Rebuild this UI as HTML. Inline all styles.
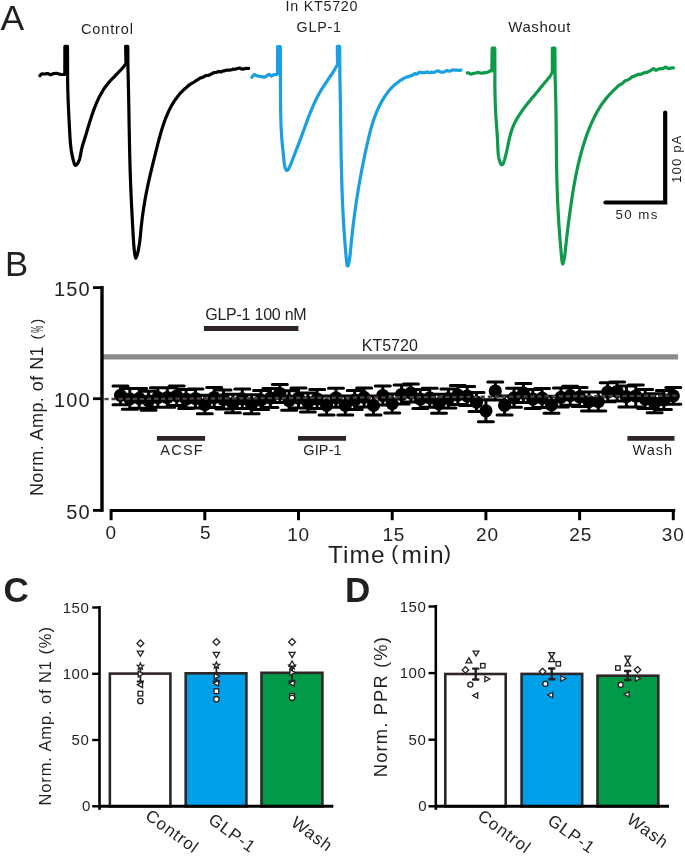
<!DOCTYPE html>
<html><head><meta charset="utf-8"><style>
html,body{margin:0;padding:0;background:#fff;}
svg{display:block;font-family:"Liberation Sans", sans-serif;will-change:transform;}
</style></head><body>
<svg width="685" height="856" viewBox="0 0 685 856">
<rect width="685" height="856" fill="#fff"/>
<text x="0.4" y="30.4" font-size="35.5" fill="#231f20">A</text>
<text x="81.0" y="33.5" font-size="14.5" textLength="52" lengthAdjust="spacing" fill="#231f20">Control</text>
<text x="285.5" y="11.4" font-size="14.3" textLength="72" lengthAdjust="spacing" fill="#231f20">In KT5720</text>
<text x="296.5" y="31.5" font-size="14.3" textLength="44.5" lengthAdjust="spacing" fill="#231f20">GLP-1</text>
<text x="508.3" y="31.9" font-size="15" textLength="62" lengthAdjust="spacing" fill="#231f20">Washout</text>
<path d="M39.91,75.74L40.94,74.43L42.02,73.81L43.14,73.93L44.32,74.01L45.54,73.89L46.79,73.59L48.07,73.62L49.35,74.17L50.64,74.76L51.93,74.29L53.21,73.61L54.49,73.51L55.77,73.40L57.06,73.42L58.34,73.81L59.62,74.18L60.91,74.37L62.20,74.52L63.50,74.42L64.80,74.32L64.90,46.30L67.50,46.30L67.60,72.01L67.59,73.21L67.59,74.41L67.59,75.61L67.60,76.81L67.60,78.02L67.61,79.22L67.62,80.43L67.64,81.64L67.66,82.85L67.68,84.06L67.70,85.27L67.72,86.48L67.75,87.69L67.78,88.91L67.81,90.12L67.84,91.34L67.88,92.55L67.92,93.77L67.95,94.98L68.00,96.20L68.04,97.41L68.08,98.63L68.13,99.85L68.18,101.07L68.22,102.28L68.27,103.50L68.33,104.72L68.38,105.93L68.43,107.15L68.49,108.36L68.54,109.58L68.60,110.79L68.66,112.01L68.72,113.22L68.78,114.43L68.84,115.64L68.90,116.85L68.96,118.06L69.02,119.27L69.08,120.48L69.15,121.69L69.21,122.89L69.27,124.09L69.34,125.30L69.40,126.50L69.46,127.70L69.53,128.89L69.59,130.09L69.65,131.28L69.72,132.48L69.78,133.67L69.85,134.86L69.92,136.05L69.99,137.24L70.07,138.43L70.15,139.62L70.24,140.81L70.33,142.01L70.44,143.20L70.56,144.40L70.68,145.60L70.82,146.81L70.97,148.01L71.13,149.23L71.30,150.44L71.50,151.66L71.70,152.89L71.93,154.12L72.17,155.36L72.43,156.61L72.71,157.86L73.01,159.12L73.33,160.38L73.68,161.65L74.05,162.93L74.46,164.08L74.95,165.02L75.54,165.43L76.25,164.99L77.02,164.25L77.75,163.25L78.38,162.16L78.91,161.01L79.36,159.84L79.72,158.64L80.03,157.42L80.30,156.18L80.53,154.94L80.74,153.69L80.95,152.45L81.17,151.22L81.42,150.02L81.69,148.83L81.98,147.66L82.28,146.51L82.61,145.37L82.94,144.23L83.29,143.10L83.64,141.97L84.00,140.85L84.35,139.73L84.71,138.60L85.06,137.47L85.42,136.33L85.77,135.18L86.11,134.03L86.46,132.88L86.81,131.73L87.16,130.56L87.50,129.40L87.85,128.23L88.20,127.07L88.55,125.90L88.90,124.73L89.26,123.56L89.62,122.39L89.98,121.22L90.35,120.04L90.72,118.87L91.09,117.71L91.47,116.55L91.86,115.38L92.25,114.21L92.65,113.04L93.05,111.89L93.46,110.74L93.88,109.60L94.31,108.45L94.75,107.31L95.20,106.17L95.65,105.03L96.12,103.89L96.59,102.78L97.08,101.67L97.58,100.56L98.09,99.46L98.61,98.36L99.14,97.29L99.69,96.23L100.25,95.16L100.82,94.10L101.41,93.08L102.01,92.07L102.63,91.02L103.26,89.95L103.91,88.95L104.58,87.97L105.26,87.01L105.96,86.09L106.68,85.17L107.42,84.22L108.17,83.29L108.94,82.38L109.73,81.40L110.54,80.48L111.35,79.63L112.18,78.79L113.01,78.06L113.85,77.28L114.70,76.37L115.55,75.34L116.40,74.37L117.25,73.57L118.09,72.73L118.94,71.82L119.77,70.97L120.59,70.18L121.41,69.32L122.21,68.39L123.00,67.47L123.77,66.50L124.52,65.53L125.26,64.60L125.97,63.77L125.60,46.30L127.80,46.30L127.94,68.01L127.97,69.21L128.01,70.42L128.04,71.62L128.08,72.82L128.11,74.02L128.14,75.23L128.17,76.43L128.20,77.64L128.23,78.84L128.26,80.04L128.29,81.25L128.32,82.45L128.35,83.66L128.38,84.86L128.41,86.06L128.43,87.27L128.46,88.47L128.48,89.68L128.51,90.88L128.54,92.09L128.56,93.29L128.58,94.50L128.61,95.70L128.63,96.91L128.66,98.12L128.68,99.32L128.70,100.53L128.72,101.73L128.75,102.94L128.77,104.14L128.79,105.35L128.81,106.56L128.83,107.76L128.85,108.97L128.88,110.18L128.90,111.38L128.92,112.59L128.94,113.79L128.96,115.00L128.98,116.21L129.00,117.41L129.02,118.62L129.04,119.83L129.06,121.03L129.08,122.24L129.10,123.45L129.13,124.65L129.15,125.86L129.17,127.07L129.19,128.27L129.21,129.48L129.23,130.68L129.25,131.89L129.28,133.10L129.30,134.30L129.32,135.51L129.34,136.72L129.37,137.92L129.39,139.13L129.41,140.34L129.44,141.54L129.46,142.75L129.48,143.96L129.51,145.16L129.53,146.37L129.56,147.57L129.59,148.78L129.61,149.99L129.64,151.19L129.67,152.40L129.69,153.60L129.72,154.81L129.75,156.01L129.78,157.22L129.81,158.43L129.84,159.63L129.87,160.84L129.91,162.04L129.94,163.25L129.97,164.45L130.00,165.66L130.04,166.86L130.07,168.07L130.11,169.27L130.15,170.47L130.18,171.68L130.22,172.88L130.26,174.09L130.30,175.29L130.34,176.49L130.38,177.70L130.43,178.90L130.47,180.11L130.51,181.31L130.56,182.51L130.60,183.71L130.65,184.92L130.70,186.12L130.75,187.32L130.80,188.52L130.85,189.73L130.90,190.93L130.95,192.13L131.00,193.33L131.06,194.53L131.11,195.74L131.17,196.94L131.22,198.14L131.28,199.34L131.34,200.54L131.39,201.74L131.45,202.94L131.51,204.14L131.57,205.35L131.63,206.55L131.69,207.75L131.75,208.95L131.82,210.15L131.88,211.35L131.94,212.55L132.00,213.75L132.07,214.96L132.13,216.16L132.19,217.36L132.26,218.56L132.32,219.76L132.39,220.96L132.45,222.16L132.52,223.37L132.58,224.57L132.65,225.77L132.72,226.97L132.78,228.17L132.85,229.38L132.91,230.58L132.98,231.78L133.04,232.98L133.11,234.19L133.18,235.39L133.24,236.60L133.31,237.81L133.39,239.03L133.46,240.25L133.55,241.49L133.64,242.74L133.73,244.00L133.83,245.27L133.94,246.56L134.06,247.87L134.19,249.21L134.34,250.56L134.49,251.93L134.66,253.26L134.84,254.51L135.04,255.61L135.26,256.51L135.51,257.19L135.78,258.15L136.07,257.44L136.38,256.94L136.71,256.23L137.05,255.26L137.38,254.11L137.71,252.85L138.02,251.52L138.31,250.19L138.58,248.88L138.82,247.58L139.04,246.31L139.25,245.05L139.44,243.80L139.61,242.57L139.77,241.34L139.91,240.13L140.05,238.92L140.18,237.73L140.30,236.53L140.41,235.35L140.53,234.16L140.64,232.98L140.75,231.80L140.86,230.61L140.97,229.42L141.09,228.23L141.22,227.04L141.34,225.84L141.47,224.65L141.61,223.45L141.75,222.24L141.89,221.04L142.04,219.83L142.19,218.63L142.34,217.42L142.50,216.21L142.67,215.00L142.83,213.79L143.00,212.58L143.18,211.37L143.35,210.16L143.53,208.95L143.72,207.75L143.91,206.54L144.10,205.33L144.29,204.13L144.49,202.93L144.70,201.73L144.90,200.53L145.11,199.34L145.33,198.15L145.54,196.96L145.76,195.77L145.99,194.59L146.21,193.41L146.44,192.23L146.68,191.06L146.91,189.89L147.15,188.72L147.39,187.55L147.64,186.38L147.88,185.22L148.13,184.05L148.39,182.89L148.64,181.73L148.90,180.58L149.16,179.42L149.42,178.26L149.69,177.10L149.95,175.95L150.22,174.79L150.49,173.64L150.77,172.48L151.04,171.33L151.32,170.17L151.59,169.02L151.87,167.86L152.15,166.70L152.44,165.55L152.72,164.39L153.00,163.23L153.29,162.07L153.58,160.91L153.87,159.75L154.16,158.58L154.45,157.42L154.74,156.25L155.03,155.08L155.32,153.91L155.62,152.73L155.91,151.56L156.21,150.38L156.50,149.19L156.80,148.01L157.10,146.83L157.40,145.64L157.70,144.45L158.00,143.26L158.31,142.07L158.62,140.88L158.93,139.69L159.25,138.51L159.57,137.32L159.90,136.13L160.23,134.94L160.56,133.76L160.90,132.57L161.25,131.40L161.60,130.22L161.96,129.04L162.32,127.87L162.70,126.71L163.08,125.55L163.46,124.39L163.86,123.23L164.26,122.07L164.68,120.92L165.10,119.79L165.53,118.66L165.97,117.53L166.42,116.41L166.88,115.29L167.36,114.18L167.84,113.09L168.33,111.99L168.84,110.93L169.36,109.86L169.89,108.75L170.43,107.69L170.99,106.67L171.56,105.63L172.14,104.57L172.74,103.56L173.35,102.57L173.97,101.59L174.61,100.64L175.27,99.70L175.94,98.79L176.63,97.85L177.33,96.88L178.06,95.98L178.79,95.09L179.55,94.10L180.32,93.13L181.11,92.32L181.92,91.56L182.75,90.77L183.60,89.90L184.46,89.05L185.35,88.35L186.25,87.65L187.18,86.76L188.12,85.88L189.08,85.14L190.06,84.40L191.06,83.73L192.07,83.10L193.10,82.65L194.14,82.14L195.19,81.24L196.26,80.44L197.34,79.94L198.43,79.32L199.52,78.45L200.63,77.87L201.74,77.65L202.86,77.30L203.99,76.66L205.12,75.91L206.26,75.46L207.40,75.51L208.55,75.42L209.69,74.79L210.84,74.21L211.98,73.67L213.13,73.00L214.28,72.63L215.42,72.52L216.57,72.35L217.72,71.82L218.87,71.47L220.02,71.93L221.17,71.96L222.33,71.23L223.48,70.86L224.64,70.82L225.81,70.36L226.97,70.00L228.14,70.17L229.31,70.13L230.48,70.02L231.66,69.66L232.84,69.16L234.03,69.24L235.22,69.24L236.41,68.74L237.61,68.47L238.81,68.19L240.02,68.20L241.24,68.94L242.46,69.07L243.68,68.86L244.92,68.74L246.15,68.27L247.40,68.52L248.65,68.36" fill="none" stroke="#000" stroke-width="3.2" stroke-linejoin="round" stroke-linecap="round"/>
<path d="M251.89,77.26L253.03,75.76L254.20,74.44L255.39,74.93L256.61,75.81L257.85,75.96L259.10,76.25L260.36,76.62L261.62,76.67L262.87,76.95L264.09,77.16L265.27,76.81L266.39,76.09L267.43,75.24L268.42,74.49L269.40,74.47L270.41,75.30L271.48,76.19L272.63,75.45L273.84,74.61L275.09,74.54L276.33,74.52L277.50,74.02L277.60,46.60L280.30,46.60L280.39,75.02L280.41,76.21L280.42,77.40L280.43,78.60L280.44,79.80L280.45,81.00L280.46,82.20L280.47,83.41L280.48,84.61L280.48,85.82L280.49,87.03L280.49,88.24L280.50,89.45L280.50,90.67L280.51,91.88L280.51,93.10L280.52,94.32L280.52,95.53L280.53,96.75L280.54,97.97L280.54,99.19L280.55,100.41L280.56,101.63L280.57,102.85L280.58,104.07L280.59,105.29L280.60,106.51L280.62,107.73L280.63,108.95L280.65,110.17L280.67,111.39L280.69,112.61L280.72,113.83L280.74,115.05L280.77,116.27L280.80,117.48L280.83,118.70L280.87,119.91L280.90,121.13L280.94,122.34L280.99,123.55L281.03,124.76L281.08,125.97L281.14,127.17L281.19,128.38L281.25,129.58L281.31,130.78L281.38,131.98L281.45,133.17L281.52,134.37L281.60,135.56L281.69,136.75L281.77,137.93L281.86,139.12L281.96,140.30L282.06,141.48L282.16,142.66L282.27,143.83L282.38,145.01L282.50,146.19L282.61,147.38L282.73,148.56L282.86,149.76L282.98,150.96L283.11,152.17L283.24,153.38L283.36,154.61L283.49,155.85L283.62,157.10L283.75,158.37L283.88,159.65L284.02,160.94L284.17,162.23L284.34,163.53L284.54,164.82L284.78,166.09L285.07,167.35L285.40,168.55L285.78,169.56L286.22,170.19L286.70,169.73L287.23,170.29L287.80,170.03L288.37,169.17L288.93,168.13L289.47,167.04L290.00,165.93L290.50,164.78L290.99,163.61L291.47,162.42L291.94,161.21L292.41,160.01L292.87,158.80L293.32,157.60L293.78,156.41L294.23,155.23L294.68,154.08L295.13,152.93L295.57,151.77L296.02,150.63L296.46,149.49L296.90,148.38L297.33,147.27L297.77,146.15L298.20,145.02L298.63,143.91L299.06,142.81L299.48,141.70L299.91,140.59L300.32,139.47L300.74,138.35L301.16,137.23L301.57,136.11L301.98,134.98L302.39,133.84L302.80,132.70L303.21,131.57L303.62,130.45L304.03,129.32L304.44,128.18L304.85,127.04L305.26,125.89L305.68,124.75L306.09,123.62L306.51,122.48L306.93,121.33L307.35,120.19L307.77,119.06L308.20,117.93L308.64,116.79L309.07,115.65L309.51,114.52L309.96,113.38L310.41,112.26L310.86,111.15L311.33,110.02L311.79,108.89L312.27,107.77L312.75,106.66L313.23,105.54L313.73,104.43L314.23,103.33L314.74,102.22L315.26,101.12L315.79,100.02L316.32,98.93L316.87,97.85L317.43,96.78L317.99,95.73L318.57,94.67L319.15,93.58L319.75,92.50L320.36,91.45L320.97,90.43L321.61,89.41L322.25,88.38L322.90,87.35L323.56,86.31L324.23,85.29L324.90,84.29L325.58,83.26L326.26,82.29L326.94,81.32L327.63,80.27L328.31,79.23L328.99,78.22L329.67,77.21L330.34,76.23L331.01,75.25L331.67,74.29L332.32,73.34L332.96,72.38L333.59,71.36L334.21,70.34L334.81,69.31L335.40,68.28L335.97,67.24L336.53,66.22L337.06,65.24L337.58,64.21L337.30,46.40L339.70,46.40L339.88,76.52L339.91,77.72L339.94,78.92L339.97,80.12L339.99,81.32L340.02,82.52L340.05,83.73L340.07,84.93L340.10,86.13L340.12,87.33L340.14,88.54L340.17,89.74L340.19,90.94L340.21,92.15L340.23,93.35L340.25,94.56L340.27,95.76L340.29,96.96L340.31,98.17L340.33,99.37L340.35,100.58L340.37,101.78L340.39,102.99L340.41,104.19L340.43,105.40L340.45,106.61L340.46,107.81L340.48,109.02L340.50,110.22L340.52,111.43L340.53,112.64L340.55,113.84L340.57,115.05L340.58,116.26L340.60,117.46L340.62,118.67L340.63,119.88L340.65,121.08L340.66,122.29L340.68,123.50L340.70,124.70L340.71,125.91L340.73,127.12L340.75,128.33L340.76,129.53L340.78,130.74L340.79,131.95L340.81,133.15L340.83,134.36L340.84,135.57L340.86,136.78L340.88,137.98L340.90,139.19L340.91,140.40L340.93,141.61L340.95,142.81L340.97,144.02L340.99,145.23L341.01,146.44L341.03,147.64L341.05,148.85L341.07,150.06L341.09,151.26L341.11,152.47L341.13,153.68L341.15,154.88L341.17,156.09L341.20,157.30L341.22,158.51L341.24,159.71L341.27,160.92L341.29,162.12L341.32,163.33L341.34,164.54L341.37,165.74L341.39,166.95L341.42,168.16L341.45,169.36L341.48,170.57L341.51,171.77L341.54,172.98L341.57,174.18L341.60,175.39L341.63,176.59L341.67,177.80L341.70,179.00L341.73,180.21L341.77,181.41L341.81,182.61L341.84,183.82L341.88,185.02L341.92,186.23L341.96,187.43L342.00,188.63L342.04,189.83L342.08,191.04L342.13,192.24L342.17,193.44L342.22,194.64L342.26,195.85L342.31,197.05L342.36,198.25L342.41,199.45L342.46,200.65L342.51,201.85L342.56,203.05L342.61,204.25L342.67,205.45L342.72,206.65L342.78,207.85L342.84,209.06L342.90,210.26L342.96,211.46L343.02,212.66L343.08,213.86L343.14,215.06L343.21,216.26L343.27,217.46L343.34,218.66L343.41,219.86L343.48,221.06L343.55,222.26L343.62,223.47L343.69,224.67L343.77,225.87L343.84,227.07L343.92,228.27L344.00,229.48L344.08,230.68L344.16,231.88L344.24,233.09L344.32,234.29L344.41,235.50L344.50,236.70L344.58,237.91L344.67,239.11L344.76,240.32L344.85,241.52L344.95,242.73L345.04,243.94L345.14,245.15L345.23,246.36L345.33,247.56L345.43,248.78L345.53,249.99L345.64,251.21L345.74,252.44L345.85,253.69L345.97,254.95L346.08,256.23L346.20,257.53L346.32,258.85L346.45,260.20L346.58,261.57L346.73,262.88L346.88,264.08L347.05,265.08L347.24,265.81L347.46,265.87L347.70,265.61L347.97,265.77L348.25,265.07L348.54,264.08L348.82,262.89L349.09,261.59L349.34,260.24L349.56,258.90L349.76,257.59L349.92,256.30L350.07,255.03L350.21,253.77L350.33,252.53L350.44,251.30L350.55,250.07L350.67,248.85L350.78,247.63L350.90,246.41L351.01,245.19L351.13,243.98L351.25,242.76L351.38,241.55L351.50,240.34L351.62,239.13L351.75,237.93L351.88,236.72L352.01,235.52L352.14,234.32L352.27,233.12L352.40,231.92L352.54,230.72L352.67,229.52L352.81,228.33L352.95,227.13L353.09,225.94L353.24,224.75L353.38,223.56L353.53,222.36L353.68,221.17L353.83,219.98L353.98,218.80L354.13,217.61L354.29,216.42L354.44,215.23L354.60,214.04L354.76,212.86L354.93,211.67L355.09,210.48L355.25,209.30L355.42,208.11L355.59,206.92L355.76,205.74L355.94,204.55L356.11,203.36L356.29,202.17L356.47,200.99L356.65,199.80L356.83,198.61L357.01,197.42L357.20,196.24L357.39,195.05L357.58,193.86L357.77,192.68L357.96,191.49L358.15,190.30L358.35,189.11L358.55,187.93L358.75,186.74L358.95,185.55L359.16,184.37L359.36,183.18L359.57,181.99L359.78,180.81L359.99,179.62L360.20,178.43L360.42,177.25L360.64,176.06L360.85,174.87L361.07,173.69L361.30,172.50L361.52,171.32L361.75,170.13L361.97,168.95L362.20,167.76L362.43,166.58L362.67,165.39L362.90,164.21L363.14,163.02L363.38,161.84L363.62,160.66L363.86,159.47L364.10,158.29L364.35,157.11L364.60,155.92L364.85,154.74L365.10,153.56L365.35,152.38L365.60,151.20L365.86,150.02L366.12,148.84L366.38,147.66L366.64,146.48L366.91,145.30L367.17,144.12L367.44,142.94L367.71,141.76L367.98,140.58L368.25,139.40L368.53,138.23L368.81,137.05L369.10,135.88L369.39,134.71L369.69,133.54L369.99,132.37L370.29,131.21L370.60,130.04L370.92,128.88L371.25,127.72L371.58,126.56L371.92,125.40L372.26,124.25L372.62,123.10L372.98,121.95L373.36,120.80L373.74,119.65L374.13,118.52L374.53,117.39L374.94,116.28L375.37,115.15L375.80,114.01L376.25,112.89L376.71,111.79L377.18,110.68L377.66,109.57L378.16,108.49L378.67,107.41L379.19,106.32L379.73,105.24L380.28,104.16L380.85,103.07L381.43,101.98L382.03,100.91L382.65,99.88L383.28,98.85L383.92,97.77L384.58,96.73L385.26,95.80L385.95,94.88L386.66,93.92L387.38,92.88L388.12,91.79L388.88,90.81L389.65,89.93L390.43,88.98L391.24,88.02L392.06,87.24L392.89,86.46L393.74,85.57L394.61,84.87L395.50,84.23L396.40,83.46L397.32,82.81L398.25,82.14L399.20,81.36L400.17,80.58L401.16,79.97L402.16,79.45L403.17,78.65L404.21,78.01L405.26,77.64L406.33,77.11L407.41,76.87L408.50,76.66L409.61,76.07L410.73,75.67L411.87,75.57L413.01,74.93L414.17,73.83L415.34,73.67L416.51,74.22L417.70,73.65L418.89,72.46L420.09,72.30L421.30,72.56L422.52,72.52L423.74,72.64L424.96,72.70L426.19,72.32L427.43,71.97L428.67,72.49L429.91,72.72L431.15,72.21L432.39,72.35L433.64,72.48L434.88,72.07L436.12,71.43L437.36,70.85L438.60,71.01L439.84,71.71L441.08,72.12L442.31,72.15L443.53,72.04L444.75,71.65L445.97,70.90L447.18,70.55L448.38,70.96L449.57,71.22L450.76,70.73L451.94,70.14L453.10,69.96L454.26,70.02L455.41,70.15L456.54,70.08L457.66,70.18L458.77,70.39L459.87,70.53L460.95,69.99" fill="none" stroke="#1a9fe0" stroke-width="3.2" stroke-linejoin="round" stroke-linecap="round"/>
<path d="M467.30,72.88L468.56,72.73L469.83,73.64L471.10,74.10L472.38,73.78L473.66,73.32L474.95,73.09L476.25,72.79L477.55,72.44L478.85,72.67L480.16,72.98L481.46,73.20L482.77,73.22L484.08,72.60L485.38,72.50L486.68,72.67L487.97,72.04L489.25,71.30L490.53,70.88L491.80,70.95L492.20,48.20L494.80,48.20L494.90,75.00L494.89,76.20L494.88,77.40L494.87,78.61L494.87,79.81L494.86,81.02L494.86,82.23L494.87,83.44L494.87,84.65L494.88,85.86L494.89,87.07L494.90,88.28L494.92,89.49L494.93,90.71L494.95,91.92L494.98,93.13L495.00,94.35L495.03,95.56L495.06,96.77L495.09,97.99L495.13,99.20L495.16,100.41L495.20,101.62L495.25,102.83L495.29,104.04L495.34,105.25L495.39,106.46L495.45,107.66L495.50,108.86L495.56,110.07L495.62,111.27L495.69,112.47L495.76,113.66L495.83,114.86L495.90,116.05L495.97,117.24L496.05,118.43L496.13,119.61L496.21,120.80L496.30,121.98L496.38,123.17L496.47,124.35L496.55,125.54L496.64,126.72L496.72,127.91L496.81,129.10L496.89,130.29L496.98,131.49L497.06,132.68L497.14,133.88L497.22,135.09L497.29,136.30L497.36,137.51L497.43,138.73L497.50,139.95L497.56,141.18L497.62,142.42L497.67,143.66L497.72,144.92L497.77,146.17L497.82,147.43L497.87,148.70L497.94,149.96L498.02,151.23L498.11,152.49L498.23,153.75L498.38,155.00L498.56,156.24L498.77,157.47L499.02,158.69L499.32,159.91L499.66,161.10L500.05,162.25L500.48,163.29L500.94,164.16L501.41,164.73L501.89,164.38L502.35,164.52L502.81,164.20L503.26,163.40L503.69,162.33L504.10,161.13L504.50,159.86L504.87,158.57L505.22,157.28L505.56,156.01L505.88,154.74L506.18,153.48L506.48,152.22L506.76,150.97L507.03,149.72L507.29,148.49L507.55,147.26L507.80,146.03L508.05,144.82L508.30,143.61L508.55,142.41L508.80,141.21L509.06,140.02L509.33,138.84L509.60,137.67L509.88,136.50L510.17,135.35L510.48,134.20L510.80,133.05L511.14,131.92L511.50,130.79L511.87,129.66L512.27,128.56L512.70,127.47L513.14,126.37L513.61,125.29L514.10,124.23L514.61,123.17L515.14,122.08L515.69,121.01L516.25,119.97L516.84,118.93L517.44,117.92L518.06,116.90L518.69,115.88L519.34,114.89L520.00,113.92L520.68,112.96L521.36,111.91L522.06,110.83L522.77,109.84L523.49,108.82L524.22,107.83L524.96,106.92L525.70,105.94L526.45,105.00L527.21,104.08L527.97,103.06L528.74,102.07L529.51,101.22L530.28,100.35L531.06,99.33L531.84,98.26L532.61,97.33L533.39,96.53L534.17,95.72L534.95,94.79L535.72,93.83L536.49,92.87L537.26,91.89L538.02,90.96L538.77,90.02L539.52,89.04L540.27,88.15L541.01,87.24L541.75,86.29L542.50,85.44L543.24,84.58L543.99,83.62L544.75,82.62L545.52,81.74L546.29,80.91L547.08,79.93L547.88,78.90L548.68,78.02L549.46,77.12L550.19,76.09L550.85,75.09L551.42,74.03L551.87,72.90L552.18,71.74L552.32,70.52L552.40,48.00L554.90,48.00L555.08,76.49L555.12,77.70L555.17,78.91L555.21,80.12L555.26,81.33L555.30,82.53L555.34,83.74L555.38,84.95L555.42,86.16L555.45,87.37L555.49,88.57L555.52,89.78L555.56,90.99L555.59,92.20L555.62,93.40L555.65,94.61L555.68,95.82L555.71,97.02L555.73,98.23L555.76,99.44L555.78,100.64L555.81,101.85L555.83,103.06L555.85,104.26L555.88,105.47L555.90,106.67L555.92,107.88L555.94,109.09L555.96,110.29L555.97,111.50L555.99,112.70L556.01,113.91L556.03,115.11L556.04,116.32L556.06,117.52L556.07,118.73L556.09,119.93L556.10,121.14L556.11,122.35L556.13,123.55L556.14,124.76L556.15,125.96L556.17,127.17L556.18,128.37L556.19,129.58L556.20,130.78L556.22,131.99L556.23,133.19L556.24,134.40L556.25,135.60L556.26,136.81L556.27,138.01L556.29,139.22L556.30,140.42L556.31,141.63L556.32,142.83L556.33,144.04L556.35,145.24L556.36,146.45L556.37,147.65L556.38,148.86L556.40,150.06L556.41,151.27L556.42,152.47L556.44,153.68L556.45,154.89L556.47,156.09L556.49,157.30L556.50,158.50L556.52,159.71L556.54,160.91L556.55,162.12L556.57,163.33L556.59,164.53L556.61,165.74L556.63,166.95L556.65,168.15L556.68,169.36L556.70,170.57L556.72,171.77L556.75,172.98L556.77,174.19L556.80,175.39L556.83,176.60L556.86,177.81L556.88,179.02L556.92,180.22L556.95,181.43L556.98,182.64L557.01,183.85L557.05,185.06L557.08,186.26L557.12,187.47L557.16,188.68L557.20,189.89L557.24,191.10L557.28,192.31L557.33,193.52L557.37,194.73L557.42,195.94L557.47,197.15L557.52,198.36L557.57,199.57L557.62,200.78L557.67,201.98L557.73,203.19L557.78,204.40L557.84,205.61L557.90,206.82L557.96,208.03L558.02,209.24L558.08,210.44L558.15,211.65L558.21,212.86L558.28,214.06L558.35,215.27L558.42,216.47L558.49,217.67L558.56,218.88L558.64,220.08L558.71,221.28L558.79,222.48L558.87,223.68L558.94,224.88L559.03,226.08L559.11,227.27L559.19,228.47L559.27,229.66L559.36,230.85L559.45,232.05L559.54,233.24L559.63,234.42L559.72,235.61L559.81,236.80L559.91,237.98L560.00,239.17L560.10,240.35L560.20,241.53L560.30,242.71L560.40,243.88L560.50,245.06L560.60,246.25L560.71,247.44L560.82,248.65L560.93,249.89L561.04,251.15L561.16,252.45L561.28,253.78L561.41,255.16L561.53,256.59L561.67,258.05L561.81,259.49L561.96,260.82L562.13,261.96L562.32,262.84L562.54,263.40L562.78,263.97L563.04,263.22L563.33,262.48L563.63,261.47L563.92,260.24L564.20,258.88L564.45,257.45L564.68,256.05L564.87,254.71L565.03,253.44L565.16,252.21L565.29,251.00L565.41,249.81L565.53,248.62L565.65,247.42L565.78,246.22L565.91,245.02L566.03,243.82L566.17,242.62L566.30,241.42L566.43,240.21L566.57,239.01L566.70,237.80L566.84,236.59L566.98,235.38L567.12,234.17L567.27,232.96L567.41,231.75L567.56,230.54L567.70,229.33L567.85,228.12L568.00,226.91L568.15,225.70L568.30,224.49L568.46,223.28L568.61,222.07L568.77,220.86L568.93,219.66L569.09,218.45L569.25,217.24L569.41,216.03L569.57,214.83L569.73,213.62L569.90,212.42L570.06,211.22L570.23,210.02L570.40,208.82L570.57,207.62L570.74,206.43L570.91,205.23L571.08,204.04L571.25,202.85L571.43,201.66L571.60,200.47L571.78,199.28L571.96,198.10L572.14,196.92L572.32,195.73L572.51,194.55L572.70,193.37L572.89,192.19L573.08,191.01L573.27,189.83L573.47,188.66L573.67,187.48L573.87,186.31L574.07,185.14L574.28,183.96L574.49,182.79L574.70,181.62L574.92,180.45L575.14,179.28L575.36,178.11L575.58,176.95L575.81,175.78L576.05,174.61L576.28,173.44L576.52,172.28L576.77,171.11L577.01,169.95L577.27,168.79L577.52,167.62L577.78,166.46L578.05,165.30L578.31,164.13L578.59,162.97L578.87,161.81L579.15,160.65L579.44,159.48L579.73,158.32L580.03,157.16L580.33,155.99L580.64,154.83L580.95,153.67L581.27,152.51L581.59,151.35L581.92,150.18L582.25,149.02L582.59,147.86L582.94,146.69L583.29,145.53L583.65,144.37L584.01,143.20L584.38,142.04L584.76,140.87L585.14,139.71L585.53,138.55L585.93,137.39L586.33,136.23L586.74,135.07L587.16,133.92L587.59,132.78L588.02,131.63L588.46,130.48L588.91,129.33L589.36,128.17L589.83,127.03L590.30,125.91L590.78,124.81L591.27,123.67L591.76,122.52L592.27,121.40L592.78,120.30L593.31,119.20L593.84,118.11L594.38,117.02L594.94,115.93L595.50,114.83L596.07,113.74L596.65,112.67L597.24,111.63L597.84,110.60L598.45,109.53L599.07,108.51L599.70,107.52L600.34,106.51L601.00,105.49L601.66,104.47L602.34,103.51L603.02,102.60L603.72,101.68L604.43,100.70L605.15,99.72L605.88,98.73L606.62,97.81L607.38,96.96L608.15,96.08L608.93,95.19L609.72,94.36L610.52,93.61L611.34,92.71L612.17,91.71L613.02,90.93L613.87,90.12L614.74,89.21L615.62,88.40L616.52,87.58L617.43,86.65L618.35,85.81L619.29,85.17L620.24,84.67L621.20,84.16L622.17,83.47L623.16,82.63L624.15,81.63L625.16,80.86L626.18,80.53L627.21,80.11L628.25,79.66L629.29,79.17L630.35,78.35L631.42,77.32L632.50,76.59L633.58,76.46L634.67,76.07L635.77,75.46L636.88,74.99L638.00,74.34L639.12,74.20L640.25,74.42L641.39,74.05L642.53,73.50L643.68,73.07L644.84,72.57L646.00,72.40L647.16,72.30L648.33,71.67L649.51,71.07L650.68,70.55L651.87,69.68L653.05,68.71L654.24,68.89L655.43,70.03L656.62,70.09L657.82,69.22L659.02,68.95L660.22,68.79L661.42,68.68L662.62,68.76L663.82,68.14L665.03,67.20L666.23,67.20L667.43,68.13L668.64,68.66L669.84,68.43L671.04,67.93L672.24,67.88L673.44,67.93" fill="none" stroke="#0d9a4a" stroke-width="3.2" stroke-linejoin="round" stroke-linecap="round"/>
<path d="M665.2,112.7 L665.2,202.5 L605.4,202.5" fill="none" stroke="#000" stroke-width="4.2" stroke-linecap="round" stroke-linejoin="miter"/>
<text x="615.5" y="219.1" font-size="13.3" textLength="42" lengthAdjust="spacing" fill="#231f20">50 ms</text>
<text x="0" y="0" font-size="13.3" fill="#231f20" textLength="47.5" lengthAdjust="spacing" transform="translate(681,183) rotate(-90)">100 pA</text>
<text x="5.0" y="276.0" font-size="34.7" fill="#231f20">B</text>
<line x1="103" y1="356.9" x2="678" y2="356.9" stroke="#8b8b8b" stroke-width="5.4"/>
<text x="361.8" y="350.7" font-size="16" textLength="56" lengthAdjust="spacing" fill="#231f20">KT5720</text>
<line x1="203.9" y1="328.5" x2="298.4" y2="328.5" stroke="#2e2626" stroke-width="5"/>
<text x="205.2" y="320.4" font-size="16" textLength="101.5" lengthAdjust="spacing" fill="#231f20">GLP-1 100 nM</text>
<line x1="156.9" y1="438.4" x2="205.1" y2="438.4" stroke="#2e2626" stroke-width="4.6"/>
<text x="160.2" y="454.6" font-size="14.5" textLength="42.5" lengthAdjust="spacing" fill="#231f20">ACSF</text>
<line x1="298" y1="438.4" x2="346" y2="438.4" stroke="#2e2626" stroke-width="4.6"/>
<text x="303.2" y="454.6" font-size="14.5" textLength="38.5" lengthAdjust="spacing" fill="#231f20">GIP-1</text>
<line x1="627.4" y1="438.4" x2="674.5" y2="438.4" stroke="#2e2626" stroke-width="4.6"/>
<text x="632.6" y="454.6" font-size="14.5" textLength="39.5" lengthAdjust="spacing" fill="#231f20">Wash</text>
<line x1="102.0" y1="286" x2="102.0" y2="511.9" stroke="#000" stroke-width="3.4"/>
<line x1="93" y1="287.6" x2="102" y2="287.6" stroke="#000" stroke-width="2.8"/>
<text x="90.9" y="296.1" font-size="20" text-anchor="end" letter-spacing="1.2" fill="#231f20">150</text>
<line x1="93" y1="398.7" x2="102" y2="398.7" stroke="#000" stroke-width="2.8"/>
<text x="90.9" y="407.2" font-size="20" text-anchor="end" letter-spacing="1.2" fill="#231f20">100</text>
<line x1="93" y1="510.4" x2="102" y2="510.4" stroke="#000" stroke-width="2.8"/>
<text x="90.9" y="518.9" font-size="20" text-anchor="end" letter-spacing="1.2" fill="#231f20">50</text>
<line x1="110.4" y1="510.5" x2="675.2" y2="510.5" stroke="#000" stroke-width="3"/>
<line x1="111.1" y1="509.5" x2="111.1" y2="520.2" stroke="#000" stroke-width="3"/>
<text x="111.2" y="539.3" font-size="19" text-anchor="middle" letter-spacing="0.8" fill="#231f20">0</text>
<line x1="204.8" y1="509.5" x2="204.8" y2="520.2" stroke="#000" stroke-width="3"/>
<text x="205.7" y="539.3" font-size="19" text-anchor="middle" letter-spacing="0.8" fill="#231f20">5</text>
<line x1="298.5" y1="509.5" x2="298.5" y2="520.2" stroke="#000" stroke-width="3"/>
<text x="298.6" y="540.8" font-size="19" text-anchor="middle" letter-spacing="0.8" fill="#231f20">10</text>
<line x1="392.2" y1="509.5" x2="392.2" y2="520.2" stroke="#000" stroke-width="3"/>
<text x="393.8" y="540.8" font-size="19" text-anchor="middle" letter-spacing="0.8" fill="#231f20">15</text>
<line x1="485.9" y1="509.5" x2="485.9" y2="520.2" stroke="#000" stroke-width="3"/>
<text x="487.4" y="540.8" font-size="19" text-anchor="middle" letter-spacing="0.8" fill="#231f20">20</text>
<line x1="579.6" y1="509.5" x2="579.6" y2="520.2" stroke="#000" stroke-width="3"/>
<text x="580.7" y="540.8" font-size="19" text-anchor="middle" letter-spacing="0.8" fill="#231f20">25</text>
<line x1="673.3" y1="509.5" x2="673.3" y2="520.2" stroke="#000" stroke-width="3"/>
<text x="673.2" y="540.8" font-size="19" text-anchor="middle" letter-spacing="0.8" fill="#231f20">30</text>
<text y="562.7" font-size="24.5" fill="#231f20"><tspan x="327.9" letter-spacing="1.1">Time</tspan><tspan x="391.2" font-size="21" dy="-2.6">(</tspan><tspan x="401.5" dy="2.6" letter-spacing="1.3">min</tspan><tspan x="444.1" font-size="21" dy="-2.6">)</tspan></text>
<g transform="translate(43.4,496.1) rotate(-90)" fill="#231f20"><text x="0" y="0" font-size="17.9" letter-spacing="0.5">Norm. Amp. of N1</text><text x="156.6" y="-1.6" font-size="15">(</text><text x="0" y="0" font-size="17" transform="translate(163.3,-0.4) scale(0.47,1)">%</text><text x="172.3" y="-1.6" font-size="15">)</text></g>
<path d="M120.5,385.9V404.8M113.0,385.9H128.0M113.0,404.8H128.0M129.8,388.4V409.2M122.3,388.4H137.3M122.3,409.2H137.3M139.2,388.6V408.2M131.7,388.6H146.7M131.7,408.2H146.7M148.6,391.3V410.3M141.1,391.3H156.1M141.1,410.3H156.1M157.9,387.7V407.3M150.4,387.7H165.4M150.4,407.3H165.4M167.3,387.7V407.3M159.8,387.7H174.8M159.8,407.3H174.8M176.7,386.0V405.6M169.2,386.0H184.2M169.2,405.6H184.2M186.1,389.6V408.4M178.6,389.6H193.6M178.6,408.4H193.6M195.4,389.0V408.0M187.9,389.0H202.9M187.9,408.0H202.9M204.8,395.3V413.7M197.3,395.3H212.3M197.3,413.7H212.3M214.2,387.6V407.4M206.7,387.6H221.7M206.7,407.4H221.7M223.5,390.0V409.0M216.0,390.0H231.0M216.0,409.0H231.0M232.9,394.2V412.8M225.4,394.2H240.4M225.4,412.8H240.4M242.3,389.1V408.5M234.8,389.1H249.8M234.8,408.5H249.8M251.6,394.7V413.7M244.1,394.7H259.1M244.1,413.7H259.1M261.0,390.5V409.5M253.5,390.5H268.5M253.5,409.5H268.5M270.4,388.5V407.5M262.9,388.5H277.9M262.9,407.5H277.9M279.8,384.4V402.6M272.3,384.4H287.3M272.3,402.6H287.3M289.1,390.8V410.2M281.6,390.8H296.6M281.6,410.2H296.6M298.5,388.1V407.9M291.0,388.1H306.0M291.0,407.9H306.0M307.9,392.9V411.9M300.4,392.9H315.4M300.4,411.9H315.4M317.2,389.5V408.5M309.7,389.5H324.7M309.7,408.5H324.7M326.6,395.9V414.9M319.1,395.9H334.1M319.1,414.9H334.1M336.0,388.3V407.3M328.5,388.3H343.5M328.5,407.3H343.5M345.3,395.9V414.9M337.8,395.9H352.8M337.8,414.9H352.8M354.7,390.5V409.5M347.2,390.5H362.2M347.2,409.5H362.2M364.1,387.9V406.9M356.6,387.9H371.6M356.6,406.9H371.6M373.5,395.9V414.9M366.0,395.9H381.0M366.0,414.9H381.0M382.8,386.0V405.0M375.3,386.0H390.3M375.3,405.0H390.3M392.2,394.1V413.1M384.7,394.1H399.7M384.7,413.1H399.7M401.6,385.0V404.0M394.1,385.0H409.1M394.1,404.0H409.1M410.9,383.9V402.1M403.4,383.9H418.4M403.4,402.1H418.4M420.3,389.6V408.4M412.8,389.6H427.8M412.8,408.4H427.8M429.7,388.3V407.3M422.2,388.3H437.2M422.2,407.3H437.2M439.0,394.3V413.3M431.5,394.3H446.5M431.5,413.3H446.5M448.4,389.1V408.1M440.9,389.1H455.9M440.9,408.1H455.9M457.8,385.6V404.6M450.3,385.6H465.3M450.3,404.6H465.3M467.2,386.5V405.5M459.7,386.5H474.7M459.7,405.5H474.7M476.5,392.6V411.6M469.0,392.6H484.0M469.0,411.6H484.0M485.9,399.8V421.8M478.4,399.8H493.4M478.4,421.8H493.4M495.3,382.1V399.9M487.8,382.1H502.8M487.8,399.9H502.8M504.6,395.9V414.9M497.1,395.9H512.1M497.1,414.9H512.1M514.0,388.3V407.3M506.5,388.3H521.5M506.5,407.3H521.5M523.4,383.5V402.5M515.9,383.5H530.9M515.9,402.5H530.9M532.8,389.6V408.4M525.2,389.6H540.2M525.2,408.4H540.2M542.1,388.6V407.6M534.6,388.6H549.6M534.6,407.6H549.6M551.5,396.3V413.3M544.0,396.3H559.0M544.0,413.3H559.0M560.9,387.9V406.9M553.4,387.9H568.4M553.4,406.9H568.4M570.2,386.2V405.2M562.7,386.2H577.7M562.7,405.2H577.7M579.6,387.4V406.4M572.1,387.4H587.1M572.1,406.4H587.1M589.0,392.0V411.0M581.5,392.0H596.5M581.5,411.0H596.5M598.3,392.0V411.0M590.8,392.0H605.8M590.8,411.0H605.8M607.7,382.7V401.7M600.2,382.7H615.2M600.2,401.7H615.2M617.1,382.0V401.0M609.6,382.0H624.6M609.6,401.0H624.6M626.4,386.1V407.1M618.9,386.1H633.9M618.9,407.1H633.9M635.8,385.0V407.0M628.3,385.0H643.3M628.3,407.0H643.3M645.2,389.6V408.6M637.7,389.6H652.7M637.7,408.6H652.7M654.6,393.7V412.7M647.1,393.7H662.1M647.1,412.7H662.1M663.9,390.4V409.4M656.4,390.4H671.4M656.4,409.4H671.4M673.3,387.4V404.2M665.8,387.4H680.8M665.8,404.2H680.8" stroke="#000" stroke-width="3.0" stroke-linecap="round" fill="none"/>
<g fill="#000"><circle cx="120.5" cy="395.4" r="6.6"/><circle cx="129.8" cy="398.8" r="6.6"/><circle cx="139.2" cy="398.4" r="6.6"/><circle cx="148.6" cy="400.8" r="6.6"/><circle cx="157.9" cy="397.5" r="6.6"/><circle cx="167.3" cy="397.5" r="6.6"/><circle cx="176.7" cy="395.8" r="6.6"/><circle cx="186.1" cy="399.0" r="6.6"/><circle cx="195.4" cy="398.5" r="6.6"/><circle cx="204.8" cy="404.5" r="6.6"/><circle cx="214.2" cy="397.5" r="6.6"/><circle cx="223.5" cy="399.5" r="6.6"/><circle cx="232.9" cy="403.5" r="6.6"/><circle cx="242.3" cy="398.8" r="6.6"/><circle cx="251.6" cy="404.2" r="6.6"/><circle cx="261.0" cy="400.0" r="6.6"/><circle cx="270.4" cy="398.0" r="6.6"/><circle cx="279.8" cy="393.5" r="6.6"/><circle cx="289.1" cy="400.5" r="6.6"/><circle cx="298.5" cy="398.0" r="6.6"/><circle cx="307.9" cy="402.4" r="6.6"/><circle cx="317.2" cy="399.0" r="6.6"/><circle cx="326.6" cy="405.4" r="6.6"/><circle cx="336.0" cy="397.8" r="6.6"/><circle cx="345.3" cy="405.4" r="6.6"/><circle cx="354.7" cy="400.0" r="6.6"/><circle cx="364.1" cy="397.4" r="6.6"/><circle cx="373.5" cy="405.4" r="6.6"/><circle cx="382.8" cy="395.5" r="6.6"/><circle cx="392.2" cy="403.6" r="6.6"/><circle cx="401.6" cy="394.5" r="6.6"/><circle cx="410.9" cy="393.0" r="6.6"/><circle cx="420.3" cy="399.0" r="6.6"/><circle cx="429.7" cy="397.8" r="6.6"/><circle cx="439.0" cy="403.8" r="6.6"/><circle cx="448.4" cy="398.6" r="6.6"/><circle cx="457.8" cy="395.1" r="6.6"/><circle cx="467.2" cy="396.0" r="6.6"/><circle cx="476.5" cy="402.1" r="6.6"/><circle cx="485.9" cy="410.8" r="6.6"/><circle cx="495.3" cy="391.0" r="6.6"/><circle cx="504.6" cy="405.4" r="6.6"/><circle cx="514.0" cy="397.8" r="6.6"/><circle cx="523.4" cy="393.0" r="6.6"/><circle cx="532.8" cy="399.0" r="6.6"/><circle cx="542.1" cy="398.1" r="6.6"/><circle cx="551.5" cy="404.8" r="6.6"/><circle cx="560.9" cy="397.4" r="6.6"/><circle cx="570.2" cy="395.7" r="6.6"/><circle cx="579.6" cy="396.9" r="6.6"/><circle cx="589.0" cy="401.5" r="6.6"/><circle cx="598.3" cy="401.5" r="6.6"/><circle cx="607.7" cy="392.2" r="6.6"/><circle cx="617.1" cy="391.5" r="6.6"/><circle cx="626.4" cy="396.6" r="6.6"/><circle cx="635.8" cy="396.0" r="6.6"/><circle cx="645.2" cy="399.1" r="6.6"/><circle cx="654.6" cy="403.2" r="6.6"/><circle cx="663.9" cy="399.9" r="6.6"/><circle cx="673.3" cy="395.8" r="6.6"/></g>
<line x1="104.4" y1="399.1" x2="680" y2="395.6" stroke="#4d4242" stroke-width="2.4" stroke-dasharray="4.2 2.9"/>
<text x="3.6" y="602.2" font-size="35" font-weight="bold" fill="#231f20">C</text>
<rect x="109.85" y="673.6" width="60.55" height="132.70" fill="#fff" stroke="#2e2626" stroke-width="2.6"/>
<rect x="185.7" y="673.3" width="60.70" height="133.00" fill="#00a0e9" stroke="#2e2626" stroke-width="2.6"/>
<rect x="261.5" y="672.8" width="60.90" height="133.50" fill="#009a48" stroke="#2e2626" stroke-width="2.6"/>
<line x1="99.5" y1="606.0" x2="99.5" y2="809.8" stroke="#000" stroke-width="2.6"/>
<line x1="98.5" y1="806.3" x2="333.3" y2="806.3" stroke="#000" stroke-width="3"/>
<line x1="92.2" y1="607.5" x2="99.5" y2="607.5" stroke="#000" stroke-width="2.4"/>
<text x="89.3" y="612.6" font-size="15" text-anchor="end" letter-spacing="0.5" fill="#231f20">150</text>
<line x1="92.2" y1="673.8" x2="99.5" y2="673.8" stroke="#000" stroke-width="2.4"/>
<text x="89.3" y="678.9" font-size="15" text-anchor="end" letter-spacing="0.5" fill="#231f20">100</text>
<line x1="92.2" y1="740.0" x2="99.5" y2="740.0" stroke="#000" stroke-width="2.4"/>
<text x="89.3" y="745.1" font-size="15" text-anchor="end" letter-spacing="0.5" fill="#231f20">50</text>
<line x1="92.2" y1="806.3" x2="99.5" y2="806.3" stroke="#000" stroke-width="2.4"/>
<text x="90.8" y="811.4" font-size="15" text-anchor="end" letter-spacing="0.5" fill="#231f20">0</text>
<text x="0" y="0" font-size="16.5" fill="#231f20" textLength="178.5" lengthAdjust="spacing" transform="translate(50.6,805.6) rotate(-90)">Norm. Amp. of N1 (%)</text>
<text x="0" y="0" font-size="17" fill="#231f20" letter-spacing="0.9" transform="translate(144.2,818.1) rotate(36)">Control</text>
<text x="0" y="0" font-size="17" fill="#231f20" letter-spacing="0.9" transform="translate(207.3,822.0) rotate(36)">GLP-1</text>
<text x="0" y="0" font-size="17" fill="#231f20" letter-spacing="0.9" transform="translate(290.0,825.0) rotate(36)">Wash</text>
<path d="M140.4,667V681.5M136.8,681.5H144.0" stroke="#231f20" stroke-width="1.8" fill="none"/>
<path d="M140.4,639.98L143.82,643.4L140.4,646.82L136.98,643.4Z" fill="#fff" stroke="#231f20" stroke-width="1.3"/>
<path d="M137.34,651.04L143.46,651.04L140.4,656.26Z" fill="#fff" stroke="#231f20" stroke-width="1.3"/>
<path d="M140.40,662.98L141.30,665.16L143.65,665.34L141.86,666.87L142.41,669.17L140.40,667.93L138.39,669.17L138.94,666.87L137.15,665.34L139.50,665.16Z" fill="#fff" stroke="#231f20" stroke-width="1.3"/>
<path d="M138.24,671.12L138.24,676.88L143.46,674.0Z" fill="#fff" stroke="#231f20" stroke-width="1.3"/>
<path d="M142.56,681.82L142.56,687.58L137.34,684.7Z" fill="#fff" stroke="#231f20" stroke-width="1.3"/>
<rect x="138.06" y="691.26" width="4.68" height="4.68" fill="#fff" stroke="#231f20" stroke-width="1.3"/>
<circle cx="140.4" cy="701.0" r="2.7" fill="#fff" stroke="#231f20" stroke-width="1.3"/>
<path d="M216.4,667V681.5M212.8,681.5H220.0" stroke="#231f20" stroke-width="1.8" fill="none"/>
<path d="M216.4,638.58L219.82,642.0L216.4,645.42L212.98,642.0Z" fill="#fff" stroke="#231f20" stroke-width="1.3"/>
<path d="M213.34,652.34L219.46,652.34L216.4,657.56Z" fill="#fff" stroke="#231f20" stroke-width="1.3"/>
<path d="M216.40,661.88L217.30,664.06L219.65,664.24L217.86,665.77L218.41,668.07L216.40,666.83L214.39,668.07L214.94,665.77L213.15,664.24L215.50,664.06Z" fill="#fff" stroke="#231f20" stroke-width="1.3"/>
<path d="M214.24,673.42L214.24,679.18L219.46,676.3Z" fill="#fff" stroke="#231f20" stroke-width="1.3"/>
<path d="M218.56,680.42L218.56,686.18L213.34,683.3Z" fill="#fff" stroke="#231f20" stroke-width="1.3"/>
<rect x="214.06" y="688.86" width="4.68" height="4.68" fill="#fff" stroke="#231f20" stroke-width="1.3"/>
<circle cx="216.4" cy="699.2" r="2.7" fill="#fff" stroke="#231f20" stroke-width="1.3"/>
<path d="M292.1,667V681.5M288.5,681.5H295.7" stroke="#231f20" stroke-width="1.8" fill="none"/>
<path d="M292.1,638.58L295.52,642.0L292.1,645.42L288.68,642.0Z" fill="#fff" stroke="#231f20" stroke-width="1.3"/>
<path d="M289.04,652.34L295.16,652.34L292.1,657.56Z" fill="#fff" stroke="#231f20" stroke-width="1.3"/>
<path d="M292.10,662.58L293.00,664.76L295.35,664.94L293.56,666.47L294.11,668.77L292.10,667.53L290.09,668.77L290.64,666.47L288.85,664.94L291.20,664.76Z" fill="#fff" stroke="#231f20" stroke-width="1.3"/>
<path d="M289.04,666.26L295.16,666.26L292.1,661.04Z" fill="#fff" stroke="#231f20" stroke-width="1.3"/>
<path d="M289.94,669.62L289.94,675.38L295.16,672.5Z" fill="#fff" stroke="#231f20" stroke-width="1.3"/>
<path d="M294.26,680.42L294.26,686.18L289.04,683.3Z" fill="#fff" stroke="#231f20" stroke-width="1.3"/>
<rect x="289.76" y="693.56" width="4.68" height="4.68" fill="#fff" stroke="#231f20" stroke-width="1.3"/>
<circle cx="292.1" cy="697.8" r="2.7" fill="#fff" stroke="#231f20" stroke-width="1.3"/>
<text x="345.0" y="601.8" font-size="35" font-weight="bold" fill="#231f20">D</text>
<rect x="445.3" y="674.0" width="60.40" height="132.30" fill="#fff" stroke="#2e2626" stroke-width="2.6"/>
<rect x="521.6" y="673.9" width="60.60" height="132.40" fill="#00a0e9" stroke="#2e2626" stroke-width="2.6"/>
<rect x="597.5" y="675.7" width="60.80" height="130.60" fill="#009a48" stroke="#2e2626" stroke-width="2.6"/>
<line x1="435.8" y1="605.0" x2="435.8" y2="809.8" stroke="#000" stroke-width="2.6"/>
<line x1="434.8" y1="806.3" x2="669" y2="806.3" stroke="#000" stroke-width="3"/>
<line x1="428.5" y1="606.5" x2="435.8" y2="606.5" stroke="#000" stroke-width="2.4"/>
<text x="426.3" y="611.6" font-size="15" text-anchor="end" letter-spacing="0.5" fill="#231f20">150</text>
<line x1="428.5" y1="673.1" x2="435.8" y2="673.1" stroke="#000" stroke-width="2.4"/>
<text x="426.3" y="678.2" font-size="15" text-anchor="end" letter-spacing="0.5" fill="#231f20">100</text>
<line x1="428.5" y1="739.7" x2="435.8" y2="739.7" stroke="#000" stroke-width="2.4"/>
<text x="426.3" y="744.8" font-size="15" text-anchor="end" letter-spacing="0.5" fill="#231f20">50</text>
<line x1="428.5" y1="806.3" x2="435.8" y2="806.3" stroke="#000" stroke-width="2.4"/>
<text x="427.1" y="811.4" font-size="15" text-anchor="end" letter-spacing="0.5" fill="#231f20">0</text>
<text x="0" y="0" font-size="18.3" fill="#231f20" textLength="140" lengthAdjust="spacing" transform="translate(387.4,777.2) rotate(-90)">Norm. PPR (%)</text>
<text x="0" y="0" font-size="17" fill="#231f20" letter-spacing="0.9" transform="translate(476.4,818.3) rotate(36)">Control</text>
<text x="0" y="0" font-size="17" fill="#231f20" letter-spacing="0.9" transform="translate(546.6,822.9) rotate(36)">GLP-1</text>
<text x="0" y="0" font-size="17" fill="#231f20" letter-spacing="0.9" transform="translate(625.8,821.9) rotate(36)">Wash</text>
<path d="M475.7,668.6V679.5M473.1,668.6H478.3M473.1,679.5H478.3" stroke="#231f20" stroke-width="2.4" stroke-linecap="round" fill="none"/>
<path d="M473.11,651.06L478.89,651.06L476.0,655.99Z" fill="#fff" stroke="#231f20" stroke-width="1.3"/>
<path d="M466.01,662.84L471.79,662.84L468.9,657.91Z" fill="#fff" stroke="#231f20" stroke-width="1.3"/>
<rect x="480.59" y="663.49" width="4.42" height="4.42" fill="#fff" stroke="#231f20" stroke-width="1.3"/>
<path d="M465.4,666.67L468.63,669.9L465.4,673.13L462.17,669.9Z" fill="#fff" stroke="#231f20" stroke-width="1.3"/>
<path d="M484.86,676.28L484.86,681.72L489.79,679.0Z" fill="#fff" stroke="#231f20" stroke-width="1.3"/>
<circle cx="470.3" cy="684.6" r="2.55" fill="#fff" stroke="#231f20" stroke-width="1.3"/>
<path d="M477.74,692.78L477.74,698.22L472.81,695.5Z" fill="#fff" stroke="#231f20" stroke-width="1.3"/>
<path d="M551.7,668.5V679.3M549.1,668.5H554.3M549.1,679.3H554.3" stroke="#231f20" stroke-width="2.4" stroke-linecap="round" fill="none"/>
<path d="M548.81,652.66L554.59,652.66L551.7,657.59Z" fill="#fff" stroke="#231f20" stroke-width="1.3"/>
<path d="M548.81,661.54L554.59,661.54L551.7,656.61Z" fill="#fff" stroke="#231f20" stroke-width="1.3"/>
<rect x="556.09" y="661.59" width="4.42" height="4.42" fill="#fff" stroke="#231f20" stroke-width="1.3"/>
<path d="M542.6,668.27L545.83,671.5L542.6,674.73L539.37,671.5Z" fill="#fff" stroke="#231f20" stroke-width="1.3"/>
<path d="M560.86,675.78L560.86,681.22L565.79,678.5Z" fill="#fff" stroke="#231f20" stroke-width="1.3"/>
<circle cx="545.4" cy="683.8" r="2.55" fill="#fff" stroke="#231f20" stroke-width="1.3"/>
<path d="M552.64,692.28L552.64,697.72L547.71,695.0Z" fill="#fff" stroke="#231f20" stroke-width="1.3"/>
<path d="M627.7,671.0V680.0M625.1,671.0H630.3M625.1,680.0H630.3" stroke="#231f20" stroke-width="2.4" stroke-linecap="round" fill="none"/>
<path d="M624.81,656.16L630.59,656.16L627.7,661.09Z" fill="#fff" stroke="#231f20" stroke-width="1.3"/>
<path d="M624.81,665.84L630.59,665.84L627.7,660.91Z" fill="#fff" stroke="#231f20" stroke-width="1.3"/>
<rect x="615.69" y="665.79" width="4.42" height="4.42" fill="#fff" stroke="#231f20" stroke-width="1.3"/>
<path d="M637.5,666.57L640.73,669.8L637.5,673.03L634.27,669.8Z" fill="#fff" stroke="#231f20" stroke-width="1.3"/>
<path d="M635.46,675.78L635.46,681.22L640.39,678.5Z" fill="#fff" stroke="#231f20" stroke-width="1.3"/>
<circle cx="620.7" cy="684.8" r="2.55" fill="#fff" stroke="#231f20" stroke-width="1.3"/>
<path d="M629.04,691.58L629.04,697.02L624.11,694.3Z" fill="#fff" stroke="#231f20" stroke-width="1.3"/>
</svg>
</body></html>
